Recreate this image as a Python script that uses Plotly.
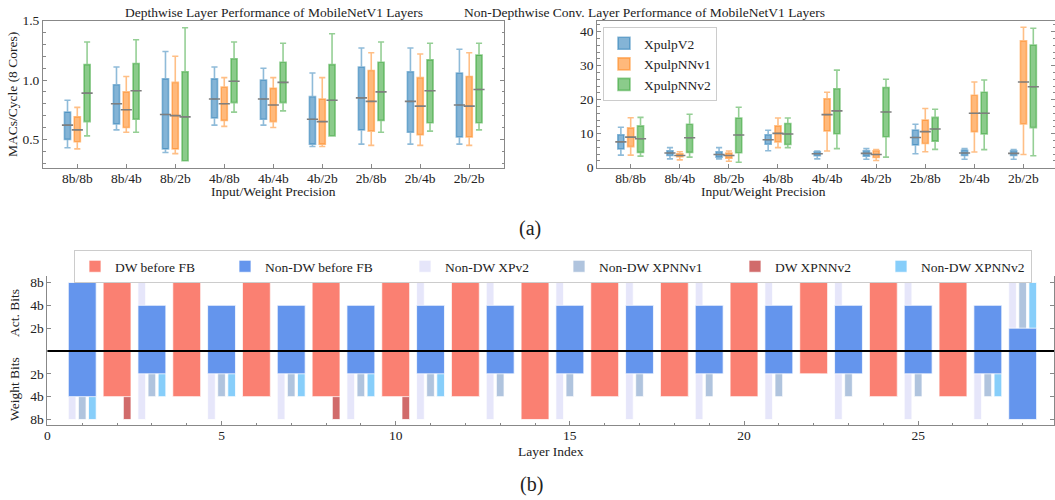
import plotly.graph_objects as go

# ---------------- data: top charts (box statistics) ----------------
categories = ["8b/8b", "8b/4b", "8b/2b", "4b/8b", "4b/4b", "4b/2b", "2b/8b", "2b/4b", "2b/2b"]
series_names = ["XpulpV2", "XpulpNNv1", "XpulpNNv2"]

# Depthwise layers (MACs/cycle)
dw_xpv2_lo = [0.43, 0.58, 0.39, 0.62, 0.62, 0.44, 0.46, 0.46, 0.46]
dw_xpv2_q1 = [0.50, 0.63, 0.42, 0.68, 0.67, 0.46, 0.58, 0.56, 0.52]
dw_xpv2_med = [0.62, 0.80, 0.71, 0.84, 0.84, 0.67, 0.85, 0.82, 0.79]
dw_xpv2_q3 = [0.73, 0.96, 1.01, 1.01, 1.00, 0.86, 1.11, 1.07, 1.06]
dw_xpv2_hi = [0.83, 1.11, 1.24, 1.11, 1.10, 1.06, 1.27, 1.27, 1.26]

dw_xpnn1_lo = [0.42, 0.56, 0.38, 0.61, 0.60, 0.44, 0.45, 0.45, 0.45]
dw_xpnn1_q1 = [0.48, 0.60, 0.42, 0.66, 0.65, 0.46, 0.57, 0.54, 0.52]
dw_xpnn1_med = [0.58, 0.75, 0.70, 0.80, 0.79, 0.65, 0.82, 0.78, 0.78]
dw_xpnn1_q3 = [0.69, 0.90, 0.98, 0.94, 0.93, 0.84, 1.08, 1.02, 1.03]
dw_xpnn1_hi = [0.77, 1.03, 1.20, 1.02, 1.02, 1.02, 1.23, 1.22, 1.23]

dw_xpnn2_lo = [0.53, 0.56, 0.32, 0.73, 0.74, 0.53, 0.56, 0.57, 0.58]
dw_xpnn2_q1 = [0.65, 0.67, 0.32, 0.81, 0.81, 0.53, 0.66, 0.64, 0.64]
dw_xpnn2_med = [0.89, 0.91, 0.69, 0.99, 0.98, 0.83, 0.90, 0.91, 0.92]
dw_xpnn2_q3 = [1.13, 1.14, 1.07, 1.18, 1.15, 1.13, 1.15, 1.17, 1.21]
dw_xpnn2_hi = [1.32, 1.34, 1.44, 1.32, 1.31, 1.39, 1.32, 1.31, 1.31]

# Non-depthwise conv layers (MACs/cycle)
nd_xpv2_lo = [3.7, 2.6, 2.6, 5.0, 2.6, 2.5, 4.1, 2.5, 2.5]
nd_xpv2_q1 = [5.5, 3.6, 3.1, 6.9, 3.5, 3.4, 6.7, 3.6, 3.6]
nd_xpv2_med = [7.6, 4.3, 3.9, 8.2, 4.1, 4.2, 8.9, 4.3, 4.2]
nd_xpv2_q3 = [9.7, 5.0, 4.7, 9.7, 4.7, 5.0, 11.1, 5.1, 5.0]
nd_xpv2_hi = [11.9, 5.9, 5.9, 11.0, 4.9, 5.6, 12.8, 5.6, 5.3]

nd_xpnn1_lo = [3.7, 2.3, 1.9, 5.9, 4.9, 2.1, 4.7, 4.6, 3.9]
nd_xpnn1_q1 = [6.2, 3.2, 2.8, 7.6, 10.8, 3.0, 7.1, 10.6, 12.9]
nd_xpnn1_med = [9.0, 3.6, 3.6, 10.1, 15.6, 3.9, 10.6, 16.0, 25.2]
nd_xpnn1_q3 = [11.7, 4.1, 4.3, 12.3, 20.3, 5.0, 14.0, 21.3, 37.3]
nd_xpnn1_hi = [14.7, 4.7, 4.9, 14.6, 22.2, 5.3, 17.4, 25.2, 41.3]

nd_xpnn2_lo = [3.4, 3.1, 1.6, 5.9, 5.6, 3.1, 5.4, 5.3, 3.5]
nd_xpnn2_q1 = [4.5, 4.5, 4.4, 6.8, 10.0, 9.1, 7.8, 9.9, 11.8]
nd_xpnn2_med = [8.5, 8.8, 9.6, 9.9, 16.7, 16.4, 11.4, 16.0, 23.8]
nd_xpnn2_q3 = [12.3, 12.8, 14.6, 13.0, 23.2, 23.6, 14.8, 22.2, 36.1]
nd_xpnn2_hi = [14.8, 15.7, 17.8, 14.6, 28.7, 26.0, 17.2, 25.8, 41.0]

# ---------------- data: bottom chart (bit precisions per layer) ----------------
dw_layers = [2, 4, 6, 8, 10, 12, 14, 16, 18, 20, 22, 24, 26]
dw_act_bits = [8, 8, 8, 8, 8, 8, 8, 8, 8, 8, 8, 8, 8]
dw_weight_bits = [4, 4, 4, 4, 4, 4, 8, 4, 4, 4, 2, 4, 4]
dw_xpnnv2_act_bits = [8, 8, 8, 8, 8, 8, 8, 8, 8, 8, 8, 8, 8]
dw_xpnnv2_weight_bits = [8, 4, 4, 8, 8, 4, 8, 4, 4, 4, 2, 4, 4]

ndw_layers = [1, 3, 5, 7, 9, 11, 13, 15, 17, 19, 21, 23, 25, 27, 28]
ndw_act_bits = [8, 4, 4, 4, 4, 4, 4, 4, 4, 4, 4, 4, 4, 4, 2]
ndw_weight_bits = [4, 2, 2, 2, 2, 2, 2, 2, 2, 2, 2, 2, 2, 2, 8]
xpv2_act_bits = [8, 8, 4, 4, 4, 8, 8, 8, 8, 8, 8, 8, 8, 4, 8]
xpv2_weight_bits = [8, 8, 8, 8, 8, 8, 8, 8, 8, 8, 8, 8, 8, 8, 8]
xpnnv1_act_bits = [8, 4, 4, 4, 4, 4, 4, 4, 4, 4, 4, 4, 4, 4, 8]
xpnnv1_weight_bits = [8, 4, 4, 4, 4, 4, 4, 4, 4, 4, 4, 4, 4, 4, 8]
xpnnv2_act_bits = [8, 4, 4, 4, 4, 4, 4, 4, 4, 4, 4, 4, 4, 4, 8]
xpnnv2_weight_bits = [8, 4, 4, 4, 4, 4, 2, 2, 2, 2, 2, 2, 2, 4, 8]

bit_ticks = [2, 4, 8]
bit_labels = ["2b", "4b", "8b"]

# ---------------- styling ----------------
FONT = "Liberation Serif"
TXT = "#222222"
LINE = "#888888"
FS = 13.5
series_rgb = [(31, 119, 180), (255, 127, 14), (44, 160, 44)]
series_offsets = [-0.2, 0.0, 0.2]
BOX_W = 0.125


def rgba(c, a):
    return "rgba(%d,%d,%d,%.2f)" % (c[0], c[1], c[2], a)


fig = go.Figure()

dw_stats = [
    (dw_xpv2_lo, dw_xpv2_q1, dw_xpv2_med, dw_xpv2_q3, dw_xpv2_hi),
    (dw_xpnn1_lo, dw_xpnn1_q1, dw_xpnn1_med, dw_xpnn1_q3, dw_xpnn1_hi),
    (dw_xpnn2_lo, dw_xpnn2_q1, dw_xpnn2_med, dw_xpnn2_q3, dw_xpnn2_hi),
]
nd_stats = [
    (nd_xpv2_lo, nd_xpv2_q1, nd_xpv2_med, nd_xpv2_q3, nd_xpv2_hi),
    (nd_xpnn1_lo, nd_xpnn1_q1, nd_xpnn1_med, nd_xpnn1_q3, nd_xpnn1_hi),
    (nd_xpnn2_lo, nd_xpnn2_q1, nd_xpnn2_med, nd_xpnn2_q3, nd_xpnn2_hi),
]

for panel, stats, showleg in (("", dw_stats, False), ("2", nd_stats, True)):
    for k, (lo, q1, med, q3, hi) in enumerate(stats):
        xs = [i + series_offsets[k] for i in range(len(categories))]
        c = series_rgb[k]
        fig.add_trace(go.Box(
            x=xs, lowerfence=lo, q1=q1, median=med, q3=q3, upperfence=hi,
            name=series_names[k], width=BOX_W, whiskerwidth=1,
            boxpoints=False, fillcolor=rgba(c, 0.55),
            line=dict(color=rgba(c, 0.5), width=1.6),
            xaxis="x" + panel, yaxis="y" + panel,
            showlegend=showleg, legend="legend", hoverinfo="skip",
        ))
    for k, (lo, q1, med, q3, hi) in enumerate(stats):
        xs = [i + series_offsets[k] for i in range(len(categories))]
        fig.add_trace(go.Scatter(
            x=xs, y=med, mode="markers",
            marker=dict(symbol="line-ew", size=8, line=dict(width=1.6, color="#7f7f7f")),
            xaxis="x" + panel, yaxis="y" + panel, showlegend=False, hoverinfo="skip",
        ))


def add_bits(x, act, wt, name, color, width, offset, rank, lw, opacity=1.0):
    edge = dict(color="rgba(255,255,255,0.75)", width=1)
    fig.add_trace(go.Bar(
        x=x, y=[b - 1 for b in act], base=1, width=width, offset=offset,
        marker=dict(color=color, line=edge), opacity=opacity,
        name=name, legend="legend2", legendgroup=name, legendrank=rank,
        legendwidth=lw, xaxis="x3", yaxis="y3", showlegend=True,
    ))
    fig.add_trace(go.Bar(
        x=x, y=[b - 1 for b in wt], base=1, width=width, offset=offset,
        marker=dict(color=color, line=edge), opacity=opacity,
        name=name, legend="legend2", legendgroup=name, legendrank=rank,
        xaxis="x3", yaxis="y4", showlegend=False,
    ))


# thin per-ISA bars first (behind), then the "before FB" bars
add_bits(ndw_layers, xpv2_act_bits, xpv2_weight_bits, "Non-DW XPv2", "#E6E6FA", 0.22, -0.40, 3, 109)
add_bits(ndw_layers, xpnnv1_act_bits, xpnnv1_weight_bits, "Non-DW XPNNv1", "#B0C4DE", 0.22, -0.11, 4, 131)
add_bits(ndw_layers, xpnnv2_act_bits, xpnnv2_weight_bits, "Non-DW XPNNv2", "#87CEFA", 0.22, 0.18, 6, 105)
add_bits(dw_layers, dw_xpnnv2_act_bits, dw_xpnnv2_weight_bits, "DW XPNNv2", "#CD5C5C", 0.22, 0.18, 5, 101, 0.9)
add_bits(dw_layers, dw_act_bits, dw_weight_bits, "DW before FB", "#FA8072", 0.8, -0.4, 1, 105)
add_bits(ndw_layers, ndw_act_bits, ndw_weight_bits, "Non-DW before FB", "#6495ED", 0.8, -0.4, 2, 135)

W, H = 1055, 500


def px_x(p):
    return p / W


def px_y(p):
    return 1 - p / H


tickfont = dict(family=FONT, size=FS, color=TXT)
common = dict(showgrid=False, zeroline=False, showline=True, linecolor=LINE, linewidth=1,
              ticks="inside", tickcolor=LINE, ticklen=4, tickfont=tickfont, automargin=False)

fig.update_layout(
    template="none",
    width=W, height=H, margin=dict(l=0, r=0, t=0, b=0, pad=0, autoexpand=False),
    paper_bgcolor="white", plot_bgcolor="white",
    font=dict(family=FONT, size=FS, color=TXT),
    barmode="overlay",
    xaxis=dict(**common, domain=[px_x(43), px_x(504)], range=[-0.7, 8.71],
               tickvals=list(range(len(categories))), ticktext=categories,
               mirror=True, anchor="y", ticklabelstandoff=-3),
    yaxis=dict(**common, domain=[px_y(168.3), px_y(20.7)], range=[0.2565, 1.5],
               tick0=0, dtick=0.5, tickformat=".1f", mirror="ticks", anchor="x",
               minor=dict(ticks="inside", dtick=0.1, ticklen=2.5, tickcolor=LINE)),
    xaxis2=dict(**common, domain=[px_x(597.3), 1.0], range=[-0.68, 8.642],
                tickvals=list(range(len(categories))), ticktext=categories,
                mirror=True, anchor="y2", ticklabelstandoff=-3),
    yaxis2=dict(**common, domain=[px_y(168.3), px_y(20.7)], range=[-0.18, 43.24],
                tick0=0, dtick=10, mirror="ticks", anchor="x2",
                minor=dict(ticks="inside", dtick=2, ticklen=2.5, tickcolor=LINE)),
    xaxis3=dict(**common, domain=[px_x(47.4), px_x(1054)], range=[0, 28.9],
                tick0=0, dtick=5, anchor="y4", ticklabelstandoff=-3,
                minor=dict(ticks="inside", dtick=1, ticklen=2.5, tickcolor=LINE)),
    xaxis4=dict(**common, domain=[px_x(47.4), px_x(1054)], range=[0, 28.9],
                tick0=0, dtick=5, anchor="y3", overlaying="x3", side="top",
                showticklabels=False,
                minor=dict(ticks="inside", dtick=1, ticklen=2.5, tickcolor=LINE)),
    yaxis3=dict(**common, domain=[px_y(351), px_y(276)], type="log", range=[0, 0.989],
                tickvals=bit_ticks, ticktext=bit_labels, mirror="ticks", anchor="x3"),
    yaxis4=dict(**common, domain=[px_y(425.3), px_y(351)], type="log", range=[0.980, 0],
                tickvals=bit_ticks, ticktext=bit_labels, mirror="ticks", anchor="x3"),
    legend=dict(x=px_x(603), y=px_y(27), xanchor="left", yanchor="top",
                bgcolor="white", bordercolor="#cccccc", borderwidth=1,
                font=dict(family=FONT, size=FS, color=TXT), tracegroupgap=0),
    legend2=dict(orientation="h", x=px_x(74), y=px_y(250), xanchor="left", yanchor="top",
                 bgcolor="white", bordercolor="#cccccc", borderwidth=1,
                 font=dict(family=FONT, size=FS, color=TXT), traceorder="normal"),
)

# divider between activation and weight halves
fig.add_shape(type="line", xref="x3 domain", yref="y3 domain", x0=0, x1=1, y0=0, y1=0,
              line=dict(color="black", width=2))

ann = dict(showarrow=False, font=dict(family=FONT, size=FS, color=TXT))
fig.add_annotation(text="Depthwise Layer Performance of MobileNetV1 Layers",
                   xref="x domain", yref="paper", x=0.5, y=px_y(12), yanchor="middle", **ann)
fig.add_annotation(text="Non-Depthwise Conv. Layer Performance of MobileNetV1 Layers",
                   xref="paper", yref="paper", x=px_x(827), y=px_y(12), yanchor="middle", **ann)
fig.add_annotation(text="Input/Weight Precision", xref="x domain", yref="paper",
                   x=0.5, y=px_y(191.7), yanchor="middle", **ann)
fig.add_annotation(text="Input/Weight Precision", xref="paper", yref="paper",
                   x=px_x(828), y=px_y(191.7), yanchor="middle", **ann)
fig.add_annotation(text="MACs/Cycle (8 Cores)", xref="paper", yref="paper",
                   x=px_x(12.5), y=px_y(94.5), textangle=-90, xanchor="center", yanchor="middle", **ann)
fig.add_annotation(text="Act. Bits", xref="paper", yref="paper",
                   x=px_x(14), y=px_y(313), textangle=-90, xanchor="center", yanchor="middle", **ann)
fig.add_annotation(text="Weight Bits", xref="paper", yref="paper",
                   x=px_x(14), y=px_y(389), textangle=-90, xanchor="center", yanchor="middle", **ann)
fig.add_annotation(text="Layer Index", xref="x3 domain", yref="paper",
                   x=0.5, y=px_y(451.7), yanchor="middle", **ann)
fig.add_annotation(text="(a)", xref="paper", yref="paper", x=px_x(530), y=px_y(229),
                   yanchor="middle", showarrow=False, font=dict(family=FONT, size=20, color=TXT))
fig.add_annotation(text="(b)", xref="paper", yref="paper", x=px_x(531), y=px_y(484),
                   yanchor="middle", showarrow=False, font=dict(family=FONT, size=20, color=TXT))

fig.write_html("out.html", config={"displayModeBar": False},
               post_script="document.body.style.margin='0px';")
